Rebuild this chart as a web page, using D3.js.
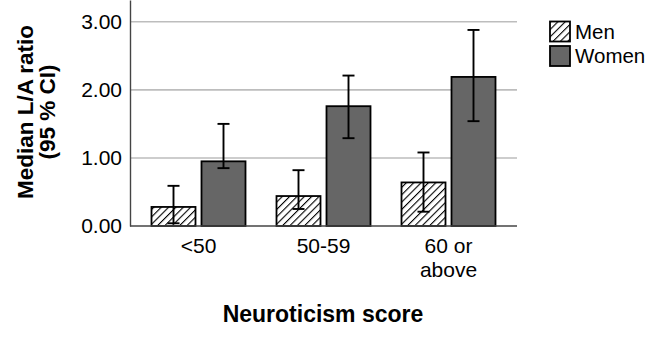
<!DOCTYPE html>
<html><head><meta charset="utf-8">
<script src="https://cdn.jsdelivr.net/npm/d3@7"></script>
<style>body{margin:0;background:#fff}svg{display:block;font-family:"Liberation Sans",Arial,sans-serif}</style>
</head><body><svg id="c" width="646" height="338"></svg>
<script>
const categories = ["<50", "50-59", "60 or above"];
const categoryLines = [["<50"], ["50-59"], ["60 or", "above"]];
const seriesNames = ["Men", "Women"];
const menValues = [0.28, 0.44, 0.64];
const menLow = [0.04, 0.25, 0.21];
const menHigh = [0.59, 0.82, 1.08];
const womenValues = [0.95, 1.76, 2.19];
const womenLow = [0.85, 1.29, 1.54];
const womenHigh = [1.50, 2.21, 2.88];
const yTicks = [0, 1, 2, 3];

const svg = d3.select("#c");
const defs = svg.append("defs");
const pat = defs.append("pattern").attr("id","hatch").attr("patternUnits","userSpaceOnUse")
  .attr("width",5.2).attr("height",5.2).attr("patternTransform","rotate(45)");
pat.append("rect").attr("width",5.2).attr("height",5.2).attr("fill","#fff");
pat.append("line").attr("x1",0).attr("y1",0).attr("x2",0).attr("y2",5.2).attr("stroke","#000").attr("stroke-width",2.2);

const plotL = 130, plotR = 517, plotT = 0, plotB = 226;
const y = d3.scaleLinear().domain([0, 3.32]).range([plotB, plotT]);
const x0 = d3.scaleBand().domain(categories).range([136, 511]).padding(0);
const x1 = d3.scaleBand().domain(seriesNames).range([15.5, 109.5]).paddingInner(0.12);

// gridlines
svg.append("g").selectAll("line").data(yTicks.filter(d=>d>0)).join("line")
  .attr("x1", plotL).attr("x2", plotR).attr("y1", d=>y(d)).attr("y2", d=>y(d))
  .attr("stroke", "#bdbdbd").attr("stroke-width", 1.6);

const rows = categories.map((c,i)=>[
  {cat:c, s:"Men", v:menValues[i], lo:menLow[i], hi:menHigh[i]},
  {cat:c, s:"Women", v:womenValues[i], lo:womenLow[i], hi:womenHigh[i]}
]).flat();

svg.append("g").selectAll("rect").data(rows).join("rect")
  .attr("x", d=>x0(d.cat)+x1(d.s)).attr("width", x1.bandwidth())
  .attr("y", d=>y(d.v)).attr("height", d=>y(0)-y(d.v))
  .attr("fill", d=>d.s==="Men"?"url(#hatch)":"#666666")
  .attr("stroke", "#000").attr("stroke-width", 1.8);

const eb = svg.append("g").attr("stroke","#000").attr("stroke-width",1.9);
rows.forEach(d=>{
  const cx = x0(d.cat)+x1(d.s)+x1.bandwidth()/2;
  eb.append("line").attr("x1",cx).attr("x2",cx).attr("y1",y(d.hi)).attr("y2",y(d.lo));
  eb.append("line").attr("x1",cx-6).attr("x2",cx+6).attr("y1",y(d.hi)).attr("y2",y(d.hi));
  eb.append("line").attr("x1",cx-6).attr("x2",cx+6).attr("y1",y(d.lo)).attr("y2",y(d.lo));
});

// axes
const yAxis = d3.axisLeft(y).tickValues(yTicks).tickFormat(d3.format(".2f")).tickSize(0).tickPadding(8);
const gy = svg.append("g").attr("transform",`translate(${plotL},0)`).call(yAxis);
gy.select(".domain").attr("stroke","#444").attr("stroke-width",1.4);
gy.selectAll("text").attr("font-size",21).attr("fill","#000").attr("font-family","Liberation Sans, Arial, sans-serif");

svg.append("line").attr("x1",plotL).attr("x2",plotR).attr("y1",plotB).attr("y2",plotB)
  .attr("stroke","#444").attr("stroke-width",1.4);

const xl = svg.append("g");
categories.forEach((c,i)=>{
  const t = xl.append("text").attr("x", x0(c)+x0.bandwidth()/2).attr("y",253)
    .attr("text-anchor","middle").attr("font-size",21).attr("fill","#000");
  categoryLines[i].forEach((ln,j)=>t.append("tspan").attr("x", x0(c)+x0.bandwidth()/2).attr("dy", j===0?0:24).text(ln));
});

svg.append("text").attr("x",323).attr("y",322).attr("text-anchor","middle")
  .attr("font-size",23).attr("font-weight","bold").text("Neuroticism score");

const yt = svg.append("text").attr("transform","translate(33,112) rotate(-90)")
  .attr("text-anchor","middle").attr("font-size",22.5).attr("font-weight","bold");
yt.append("tspan").attr("x",0).attr("dy",0).text("Median L/A ratio");
yt.append("tspan").attr("x",0).attr("dy",22).text("(95 % CI)");

// legend
const lg = svg.append("g").attr("transform","translate(550,21.5)");
seriesNames.forEach((s,i)=>{
  lg.append("rect").attr("x",0).attr("y",i*24.5).attr("width",20).attr("height",20)
    .attr("fill", s==="Men"?"url(#hatch)":"#666666").attr("stroke","#000").attr("stroke-width",1.8);
  lg.append("text").attr("x",25).attr("y",i*24.5+17).attr("font-size",20.5).text(s);
});
</script></body></html>
